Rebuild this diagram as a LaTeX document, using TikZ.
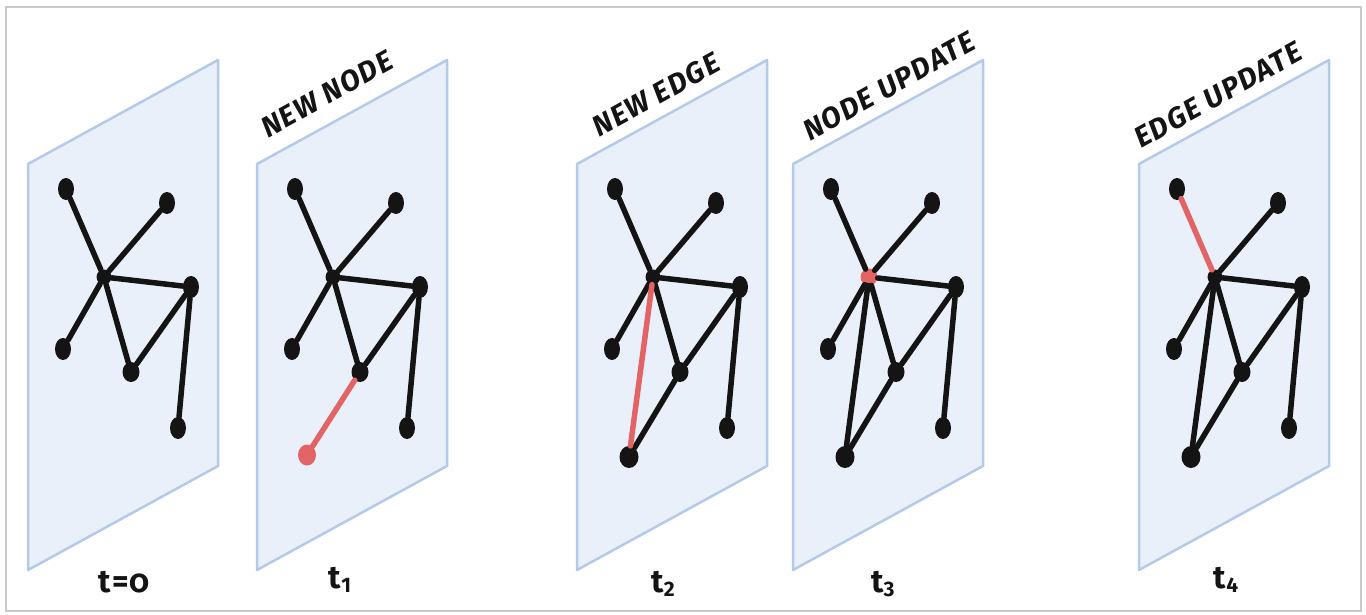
\documentclass[tikz,border=0pt]{standalone}
\usepackage{fontspec}
\newfontfamily\hand{Fira Sans}[LetterSpace=5]
\newfontfamily\handnum{Fira Sans}[Numbers=OldStyle]
\usetikzlibrary{shapes.geometric}
\definecolor{panelfill}{HTML}{EAF0FA}
\definecolor{paneledge}{HTML}{B5CAE8}
\definecolor{hl}{HTML}{E26464}
\definecolor{ink}{HTML}{141414}
\definecolor{framecol}{HTML}{C9C9C9}
\tikzset{
 vtx/.style={ellipse, fill=ink, inner sep=0pt, minimum width=16pt, minimum height=22pt},
 hub/.style={circle, fill=ink, inner sep=0pt, minimum size=15pt},
 midv/.style={ellipse, fill=ink, inner sep=0pt, minimum width=17pt, minimum height=20pt},
 link/.style={draw=ink, line width=5.5pt, line cap=round},
 rlink/.style={draw=hl, line width=5.5pt, line cap=round},
 plane/.style={fill=panelfill, draw=paneledge, line width=2.5pt, line join=round},
 toplab/.style={font=\hand\bfseries\itshape\fontsize{29}{29}\selectfont, text=ink, rotate=29, inner sep=0pt},
 tlabel/.style={font=\hand\bfseries\fontsize{32}{32}\selectfont, text=ink, inner sep=0pt}
}
\newcommand{\gplane}[3]{%
 \draw[plane] (#2,164) -- ({#2+190},60) -- ({#2+190},466) -- (#2,570) -- cycle;
 \node[vtx] (#1A) at ({#2+38},189) {};
 \node[vtx] (#1B) at ({#2+139},203) {};
 \node[hub,#3] (#1C) at ({#2+76},277) {};
 \node[vtx] (#1D) at ({#2+163},287) {};
 \node[vtx] (#1E) at ({#2+35},349) {};
 \node[midv] (#1F) at ({#2+103},372) {};
 \node[vtx] (#1G) at ({#2+150},428) {};
}
\begin{document}
\begin{tikzpicture}[x=1pt,y=-1pt]
\useasboundingbox (0,0) rectangle (1366,615);
\fill[white] (0,0) rectangle (1366,615);
\draw[framecol, line width=2pt] (6,7) rectangle (1361,611);

% t = 0
\gplane{a}{28}{}
\draw[link] (aA) -- (aC); \draw[link] (aB) -- (aC); \draw[link] (aC) -- (aD);
\draw[link] (aC) -- (aE); \draw[link] (aC) -- (aF); \draw[link] (aF) -- (aD);
\draw[link] (aD) -- (aG);

% t1 new node
\gplane{b}{257}{}
\node[vtx, fill=hl, minimum width=18pt, minimum height=21pt] (bH) at (307,455) {};
\draw[link] (bA) -- (bC); \draw[link] (bB) -- (bC); \draw[link] (bC) -- (bD);
\draw[link] (bC) -- (bE); \draw[link] (bC) -- (bF); \draw[link] (bF) -- (bD);
\draw[link] (bD) -- (bG); \draw[rlink] (bF) -- (bH);

% t2 new edge
\gplane{c}{577}{}
\node[vtx, minimum width=19pt, minimum height=22pt] (cH) at (629,457) {};
\draw[link] (cA) -- (cC); \draw[link] (cB) -- (cC); \draw[link] (cC) -- (cD);
\draw[link] (cC) -- (cE); \draw[link] (cC) -- (cF); \draw[link] (cF) -- (cD);
\draw[link] (cD) -- (cG); \draw[link] (cF) -- (cH); \draw[rlink] (cC) -- (cH);

% t3 node update
\gplane{d}{793}{fill=hl, minimum size=17pt}
\node[vtx, minimum width=19pt, minimum height=22pt] (dH) at (845,457) {};
\draw[link] (dA) -- (dC); \draw[link] (dB) -- (dC); \draw[link] (dC) -- (dD);
\draw[link] (dC) -- (dE); \draw[link] (dC) -- (dF); \draw[link] (dF) -- (dD);
\draw[link] (dD) -- (dG); \draw[link] (dF) -- (dH); \draw[link] (dC) -- (dH);

% t4 edge update
\gplane{e}{1139}{}
\node[vtx, minimum width=19pt, minimum height=22pt] (eH) at (1191,457) {};
\draw[rlink] (eA) -- (eC); \draw[link] (eB) -- (eC); \draw[link] (eC) -- (eD);
\draw[link] (eC) -- (eE); \draw[link] (eC) -- (eF); \draw[link] (eF) -- (eD);
\draw[link] (eD) -- (eG); \draw[link] (eF) -- (eH); \draw[link] (eC) -- (eH);

% captions
\node[toplab] (c1) at (327,94) {NEW NODE};
\node[toplab] (c2) at (656,95) {NEW EDGE};
\node[toplab] (c3) at (889,86) {NODE UPDATE};
\node[toplab] (c4) at (1218,95) {EDGE UPDATE};

% time labels
\node[tlabel] (t0) at (124,582) {t={\handnum 0}};
\node[tlabel] (t1) at (340,580) {t\raisebox{-4pt}{\fontsize{21}{21}\selectfont 1}};
\node[tlabel] (t2) at (663,584) {t\raisebox{-4pt}{\fontsize{21}{21}\selectfont 2}};
\node[tlabel] (t3) at (883,584) {t\raisebox{-4pt}{\fontsize{21}{21}\selectfont 3}};
\node[tlabel] (t4) at (1226,580) {t\raisebox{-4pt}{\fontsize{21}{21}\selectfont 4}};
\end{tikzpicture}
\end{document}
